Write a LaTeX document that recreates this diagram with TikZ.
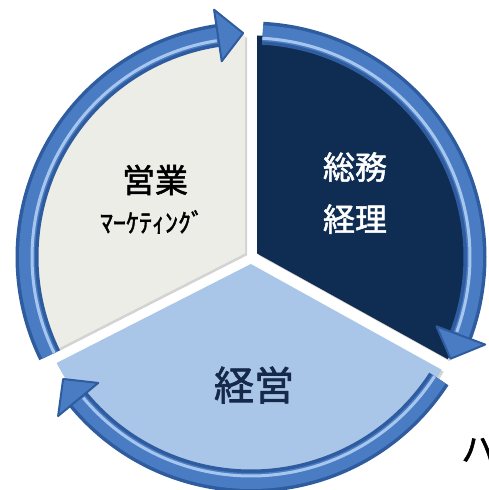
\documentclass[tikz,border=0pt]{standalone}
\usepackage{fontspec}
\setmainfont{Noto Sans CJK JP}[FakeBold=1.6]
\usetikzlibrary{arrows.meta,shadows}

\definecolor{sectlight}{HTML}{EDEDE8}
\definecolor{sectdark}{HTML}{0F2C52}
\definecolor{sectblue}{HTML}{A9C5E8}
\definecolor{ringdark}{HTML}{2E5C9E}
\definecolor{ringmid}{HTML}{4A7CC4}
\definecolor{ringlight}{HTML}{A6C6EE}
\definecolor{textnavy}{HTML}{16294A}

\begin{document}
\begin{tikzpicture}[x=1pt,y=1pt,
    sector/.style={drop shadow={shadow xshift=2pt,shadow yshift=-2pt,opacity=.35}},
    ringedge/.style={ringdark,line width=23pt},
    ringbody/.style={ringmid,line width=16pt},
    ringshine/.style={ringlight,line width=3pt},
    ringhead/.style={fill=ringmid,draw=ringdark,line width=2pt,line join=round},
    txt/.style={inner sep=0pt}]

  \useasboundingbox (0,0) rectangle (488,490);
  \coordinate (c) at (251,233);

  % the three pieces
  \fill[sectlight,sector] ([shift={(148:7)}]c) -- ++(90:218)
       arc[start angle=90,end angle=207,radius=218] -- cycle;
  \fill[sectdark,sector] ([shift={(30:7)}]c) -- ++(90:218)
       arc[start angle=90,end angle=-29,radius=218] -- cycle;
  \fill[sectblue,sector] ([shift={(269:7)}]c) -- ++(207:218)
       arc[start angle=207,end angle=331,radius=218] -- cycle;

  % ring of arrows
  \foreach \a/\b in {206/92,87/-27,-33/-147}{
    \draw[ringedge] ([shift={(\a:224)}]c) arc[start angle=\a,end angle=\b+6,radius=224];
    \draw[ringbody] ([shift={(\a:224)}]c) arc[start angle=\a,end angle=\b+6,radius=224];
    \draw[ringshine] ([shift={(\a:219)}]c) arc[start angle=\a,end angle=\b+7,radius=219];
    \draw[ringhead] ([shift={(\b+6.5:198)}]c) -- ([shift={(\b:224)}]c)
         -- ([shift={(\b+6.5:250)}]c) -- cycle;
  }

  \node[txt,font=\fontsize{33}{33}\selectfont]  (eigyo) at (155,310) {営業};
  \node[txt,font=\fontsize{26}{26}\selectfont]  (mkt)   at (152,268) {ﾏｰｹﾃｨﾝｸﾞ};
  \node[txt,white,font=\fontsize{32}{32}\selectfont] (somu)  at (355,323) {総務};
  \node[txt,white,font=\fontsize{32}{32}\selectfont] (keiri) at (355,271) {経理};
  \node[txt,textnavy,font=\fontsize{40}{40}\selectfont] (keiei) at (254,105) {経営};
  \node[txt,anchor=west,font=\fontsize{34}{34}\selectfont] (ha) at (461,40) {ハ};
\end{tikzpicture}
\end{document}
